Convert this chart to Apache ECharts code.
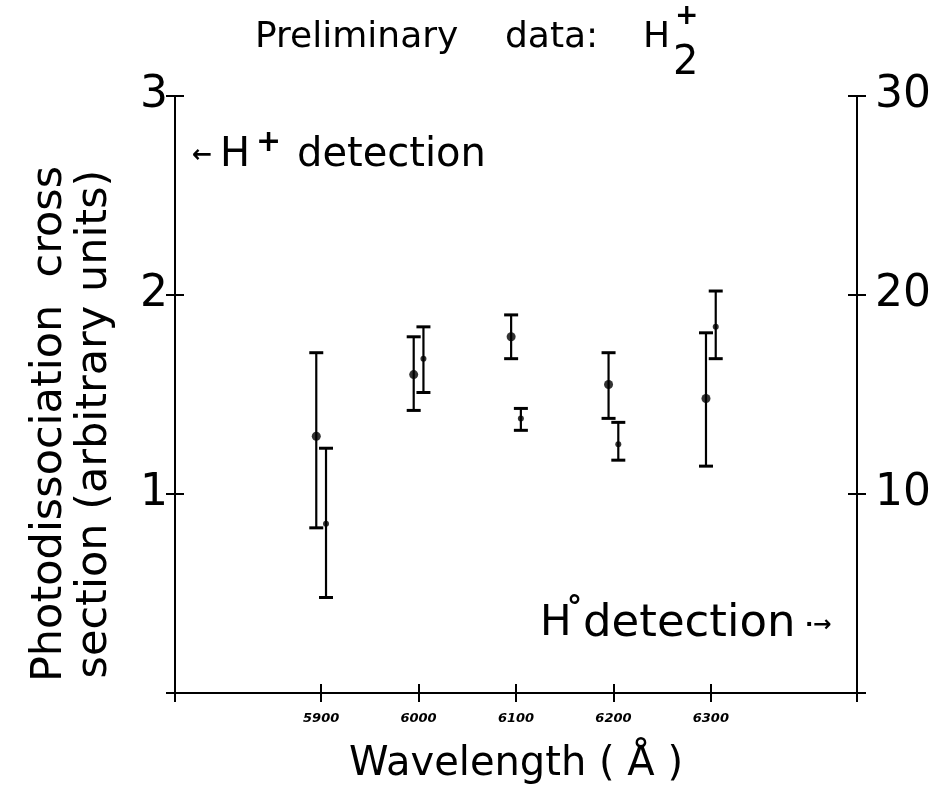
<!DOCTYPE html>
<html>
<head>
<meta charset="utf-8">
<script src="https://cdn.jsdelivr.net/npm/echarts@6/dist/echarts.min.js"></script>
<style>html,body{margin:0;padding:0;background:#fff}#c{width:935px;height:801px}</style>
</head>
<body>
<div id="c"></div>
<script>
// ---- data ----
var xTickValues = [5900, 6000, 6100, 6200, 6300];
var xTickLabels = ['5900', '6000', '6100', '6200', '6300'];
var leftTickLabels = ['1', '2', '3'];
var rightTickLabels = ['10', '20', '30'];

// H+ detection (left axis, arbitrary units)
var hpWave = [5895, 5995, 6095, 6195, 6295];
var hpVal  = [1.29, 1.60, 1.79, 1.55, 1.48];
var hpLow  = [0.83, 1.42, 1.68, 1.38, 1.14];
var hpHigh = [1.71, 1.79, 1.90, 1.71, 1.81];

// H0 detection (right axis)
var h0Wave = [5905, 6005, 6105, 6205, 6305];
var h0Val  = [8.5, 16.8, 13.8, 12.5, 18.4];
var h0Low  = [4.8, 15.1, 13.2, 11.7, 16.8];
var h0High = [12.3, 18.4, 14.3, 13.6, 20.2];

var X_MIN = 5750, X_MAX = 6450;
var FONT = 'DejaVu Sans';

function zip(a, b) { return a.map(function (v, i) { return [v, b[i]]; }); }
function zip3(a, b, c) { return a.map(function (v, i) { return [v, b[i], c[i]]; }); }

function errRender(params, api) {
  var x = api.value(0);
  var pLo = api.coord([x, api.value(1)]);
  var pHi = api.coord([x, api.value(2)]);
  var cap = 7;
  return {
    type: 'group',
    children: [
      { type: 'line', shape: { x1: pLo[0], y1: pLo[1], x2: pHi[0], y2: pHi[1] }, style: { stroke: '#000', lineWidth: 2.2 } },
      { type: 'line', shape: { x1: pLo[0] - cap, y1: pLo[1], x2: pLo[0] + cap, y2: pLo[1] }, style: { stroke: '#000', lineWidth: 3 } },
      { type: 'line', shape: { x1: pHi[0] - cap, y1: pHi[1], x2: pHi[0] + cap, y2: pHi[1] }, style: { stroke: '#000', lineWidth: 3 } }
    ]
  };
}

var axLine = { show: true, lineStyle: { color: '#000', width: 2 } };
var tickOut = { show: true, inside: false, length: 9, lineStyle: { color: '#000', width: 2 } };
var tickIn = { show: true, inside: true, length: 9, lineStyle: { color: '#000', width: 2 } };
var xTickAll = [X_MIN].concat(xTickValues, [X_MAX]);

function leftLabel(v) { var i = Math.round(v) - 1; return (i >= 0 && i < leftTickLabels.length) ? leftTickLabels[i] : ''; }
function rightLabel(v) { var i = Math.round(v / 10) - 1; return (i >= 0 && i < rightTickLabels.length) ? rightTickLabels[i] : ''; }
function xLabel(v) { var i = xTickValues.indexOf(v); return i >= 0 ? xTickLabels[i] : ''; }

var chart = echarts.init(document.getElementById('c'), null, { renderer: 'canvas' });
chart.setOption({
  backgroundColor: '#fff',
  animation: false,
  grid: { left: 175, right: 78, top: 96, bottom: 108, outerBoundsMode: 'none', containLabel: false },
  xAxis: [
    {
      type: 'value', position: 'bottom', min: X_MIN, max: X_MAX,
      axisLine: axLine,
      axisTick: { show: true, inside: false, length: 9, customValues: xTickAll, lineStyle: { color: '#000', width: 2 } },
      splitLine: { show: false },
      axisLabel: { show: true, customValues: xTickValues, formatter: xLabel, margin: 19, fontFamily: FONT, fontSize: 13, fontStyle: 'italic', fontWeight: 'bold', color: '#000' },
      name: 'Wavelength ( Å )', nameLocation: 'middle', nameGap: 52,
      nameTextStyle: { fontFamily: FONT, fontSize: 40, color: '#000' }
    },
    {
      type: 'value', position: 'bottom', min: X_MIN, max: X_MAX,
      axisLine: { show: false },
      axisTick: { show: true, inside: true, length: 9, customValues: xTickAll, lineStyle: { color: '#000', width: 2 } },
      splitLine: { show: false }, axisLabel: { show: false }
    }
  ],
  yAxis: [
    {
      type: 'value', position: 'left', min: 0, max: 3, interval: 1,
      axisLine: axLine, axisTick: tickOut, splitLine: { show: false },
      axisLabel: { formatter: leftLabel, margin: 7, fontFamily: FONT, fontSize: 44, color: '#000' }
    },
    {
      type: 'value', position: 'right', min: 0, max: 30, interval: 10,
      axisLine: axLine, axisTick: tickOut, splitLine: { show: false },
      axisLabel: { formatter: rightLabel, margin: 18, fontFamily: FONT, fontSize: 44, color: '#000' }
    },
    {
      type: 'value', position: 'left', min: 0, max: 3, interval: 1,
      axisLine: { show: false }, axisTick: tickIn, splitLine: { show: false }, axisLabel: { show: false }
    },
    {
      type: 'value', position: 'right', min: 0, max: 30, interval: 10,
      axisLine: { show: false }, axisTick: tickIn, splitLine: { show: false }, axisLabel: { show: false }
    }
  ],
  series: [
    { type: 'custom', name: 'H+ err', xAxisIndex: 0, yAxisIndex: 0, renderItem: errRender, data: zip3(hpWave, hpLow, hpHigh), z: 2 },
    { type: 'custom', name: 'H0 err', xAxisIndex: 0, yAxisIndex: 1, renderItem: errRender, data: zip3(h0Wave, h0Low, h0High), z: 2 },
    { type: 'scatter', name: 'H+', xAxisIndex: 0, yAxisIndex: 0, data: zip(hpWave, hpVal), symbol: 'circle', symbolSize: 9, itemStyle: { color: '#000' }, z: 3 },
    { type: 'scatter', name: 'H0', xAxisIndex: 0, yAxisIndex: 1, data: zip(h0Wave, h0Val), symbol: 'circle', symbolSize: 6, itemStyle: { color: '#000' }, z: 3 }
  ],
  graphic: [
    // title
    { type: 'text', left: 255, top: 20, style: { text: 'Preliminary', font: '36px ' + FONT, fill: '#000' } },
    { type: 'text', left: 505, top: 20, style: { text: 'data:', font: '36px ' + FONT, fill: '#000' } },
    { type: 'text', left: 643, top: 20, style: { text: 'H', font: '36px ' + FONT, fill: '#000' } },
    { type: 'text', left: 675, top: 3, style: { text: '+', font: 'bold 28px ' + FONT, fill: '#000' } },
    { type: 'text', left: 673, top: 44, style: { text: '2', font: '40px ' + FONT, fill: '#000' } },
    // H+ detection
    { type: 'text', left: 192, top: 144, style: { text: '←', font: 'bold 24px ' + FONT, fill: '#000' } },
    { type: 'text', left: 220, top: 136, style: { text: 'H', font: '40px ' + FONT, fill: '#000' } },
    { type: 'text', left: 256, top: 128, style: { text: '+', font: 'bold 30px ' + FONT, fill: '#000' } },
    { type: 'text', left: 297, top: 136, style: { text: 'detection', font: '40px ' + FONT, fill: '#000' } },
    // H0 detection
    { type: 'text', left: 540, top: 603, style: { text: 'H', font: '42px ' + FONT, fill: '#000' } },
    { type: 'text', left: 567, top: 594, style: { text: '°', font: 'bold 30px ' + FONT, fill: '#000' } },
    { type: 'text', left: 583, top: 602, style: { text: 'detection', font: '45px ' + FONT, fill: '#000' } },
    { type: 'text', left: 805, top: 614, style: { text: '·→', font: 'bold 22px ' + FONT, fill: '#000' } },
    // y-axis title (two rotated lines)
    { type: 'text', x: 50, y: 424, rotation: Math.PI / 2, style: { text: 'Photodissociation  cross', font: '43px ' + FONT, fill: '#000', align: 'center', verticalAlign: 'middle' } },
    { type: 'text', x: 95, y: 424, rotation: Math.PI / 2, style: { text: 'section (arbitrary units)', font: '43px ' + FONT, fill: '#000', align: 'center', verticalAlign: 'middle' } }
  ]
});
</script>
</body>
</html>
